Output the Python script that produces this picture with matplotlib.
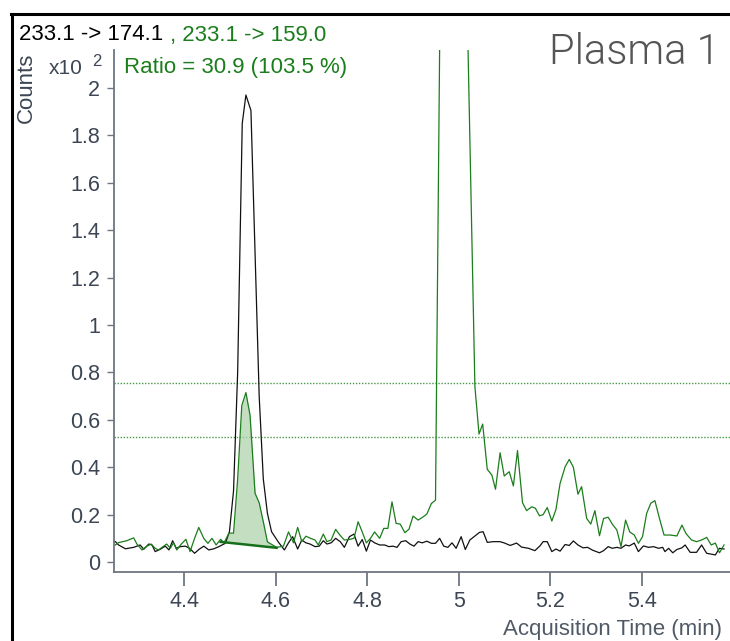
import matplotlib
matplotlib.use("Agg")
import matplotlib.pyplot as plt
from matplotlib.lines import Line2D
import numpy as np

plt.rcParams['font.family'] = ['Liberation Sans', 'DejaVu Sans']

# ---- data ----
black_t = [4.250, 4.257, 4.272, 4.290, 4.304, 4.312, 4.323, 4.330, 4.337, 4.348, 4.359, 4.367,
           4.375, 4.383, 4.392, 4.403, 4.412, 4.423, 4.433, 4.443, 4.454, 4.465, 4.476, 4.490,
           4.499, 4.508, 4.517, 4.527, 4.535, 4.546, 4.555, 4.564, 4.573, 4.582, 4.591, 4.606,
           4.619, 4.628, 4.637, 4.648, 4.657, 4.666, 4.675, 4.686, 4.695, 4.704, 4.712, 4.721,
           4.731, 4.741, 4.750, 4.761, 4.771, 4.780, 4.789, 4.798, 4.807, 4.816, 4.827, 4.838,
           4.847, 4.856, 4.865, 4.874, 4.884, 4.893, 4.902, 4.911, 4.920, 4.930, 4.940, 4.949,
           4.958, 4.967, 4.976, 4.985, 4.994, 5.005, 5.014, 5.024, 5.035, 5.045, 5.053, 5.062,
           5.075, 5.090, 5.100, 5.112, 5.126, 5.137, 5.152, 5.166, 5.177, 5.184, 5.193, 5.203,
           5.212, 5.221, 5.232, 5.241, 5.250, 5.260, 5.271, 5.281, 5.292, 5.307, 5.316, 5.326,
           5.335, 5.345, 5.354, 5.364, 5.372, 5.383, 5.392, 5.403, 5.414, 5.425, 5.436, 5.445,
           5.450, 5.458, 5.467, 5.476, 5.487, 5.494, 5.505, 5.519, 5.530, 5.541, 5.560, 5.569,
           5.579]
black_y = [0.086, 0.072, 0.056, 0.062, 0.072, 0.054, 0.076, 0.072, 0.044, 0.054, 0.067, 0.051,
           0.090, 0.058, 0.065, 0.067, 0.058, 0.037, 0.054, 0.067, 0.051, 0.056, 0.065, 0.079,
           0.127, 0.300, 0.800, 1.850, 1.970, 1.905, 1.300, 0.700, 0.350, 0.205, 0.128, 0.084,
           0.051, 0.081, 0.107, 0.055, 0.093, 0.081, 0.076, 0.065, 0.067, 0.090, 0.076, 0.081,
           0.100, 0.086, 0.062, 0.107, 0.118, 0.067, 0.095, 0.046, 0.093, 0.081, 0.072, 0.072,
           0.065, 0.067, 0.062, 0.086, 0.090, 0.076, 0.067, 0.086, 0.081, 0.088, 0.079, 0.079,
           0.100, 0.067, 0.062, 0.081, 0.058, 0.107, 0.053, 0.093, 0.110, 0.125, 0.128, 0.083,
           0.086, 0.086, 0.080, 0.070, 0.080, 0.063, 0.058, 0.048, 0.068, 0.086, 0.086, 0.044,
           0.055, 0.046, 0.074, 0.070, 0.089, 0.072, 0.060, 0.062, 0.050, 0.039, 0.048, 0.065,
           0.058, 0.062, 0.058, 0.072, 0.068, 0.080, 0.044, 0.068, 0.062, 0.065, 0.058, 0.062,
           0.044, 0.058, 0.039, 0.053, 0.060, 0.072, 0.041, 0.041, 0.072, 0.037, 0.030, 0.058,
           0.055]

green_t = [4.250, 4.257, 4.275, 4.290, 4.297, 4.308, 4.319, 4.328, 4.337, 4.344, 4.352, 4.362,
           4.370, 4.377, 4.384, 4.394, 4.404, 4.413, 4.423, 4.432, 4.443, 4.452, 4.461, 4.470,
           4.480, 4.487, 4.498, 4.508, 4.517, 4.526, 4.535, 4.544, 4.555, 4.564, 4.573, 4.582,
           4.602, 4.617, 4.628, 4.639, 4.648, 4.657, 4.666, 4.676, 4.686, 4.693, 4.704, 4.712,
           4.721, 4.731, 4.740, 4.750, 4.760, 4.771, 4.780, 4.789, 4.798, 4.807, 4.816, 4.827,
           4.836, 4.845, 4.854, 4.863, 4.872, 4.882, 4.891, 4.900, 4.911, 4.920, 4.930, 4.940,
           4.949, 4.961, 4.970, 4.979, 4.988, 4.997, 5.006, 5.017, 5.026, 5.035, 5.044, 5.052,
           5.062, 5.072, 5.080, 5.090, 5.099, 5.110, 5.119, 5.128, 5.139, 5.148, 5.159, 5.167,
           5.176, 5.184, 5.193, 5.203, 5.212, 5.221, 5.232, 5.241, 5.250, 5.260, 5.268, 5.279,
           5.288, 5.297, 5.307, 5.316, 5.326, 5.335, 5.345, 5.354, 5.364, 5.373, 5.383, 5.392,
           5.401, 5.410, 5.419, 5.428, 5.438, 5.448, 5.461, 5.476, 5.487, 5.496, 5.508, 5.519,
           5.530, 5.541, 5.551, 5.560, 5.569, 5.579]
green_y = [0.072, 0.082, 0.090, 0.102, 0.076, 0.051, 0.067, 0.076, 0.058, 0.051, 0.062, 0.076,
           0.058, 0.082, 0.051, 0.076, 0.096, 0.044, 0.100, 0.146, 0.100, 0.079, 0.100, 0.072,
           0.096, 0.080, 0.122, 0.122, 0.350, 0.660, 0.715, 0.620, 0.290, 0.250, 0.170, 0.085,
           0.062, 0.067, 0.127, 0.081, 0.146, 0.086, 0.109, 0.100, 0.093, 0.072, 0.118, 0.086,
           0.093, 0.138, 0.114, 0.093, 0.095, 0.100, 0.170, 0.127, 0.081, 0.100, 0.127, 0.100,
           0.142, 0.142, 0.254, 0.163, 0.160, 0.124, 0.138, 0.194, 0.177, 0.188, 0.202, 0.247,
           0.261, 2.800, 6.000, 9.000, 10.00, 9.000, 6.000, 2.450, 1.600, 0.740, 0.540, 0.582,
           0.391, 0.367, 0.307, 0.461, 0.363, 0.381, 0.321, 0.470, 0.250, 0.217, 0.233, 0.227,
           0.195, 0.200, 0.230, 0.173, 0.222, 0.332, 0.402, 0.433, 0.400, 0.286, 0.318, 0.184,
           0.160, 0.217, 0.111, 0.184, 0.189, 0.160, 0.135, 0.065, 0.177, 0.127, 0.114, 0.079,
           0.107, 0.205, 0.248, 0.259, 0.184, 0.114, 0.114, 0.110, 0.156, 0.120, 0.093, 0.086,
           0.093, 0.104, 0.072, 0.080, 0.039, 0.072]

peak_bounds = [4.480, 4.602]      # integration start/end (min)
peak_baseline = [0.085, 0.060]    # baseline values at start/end
ratio_limits = [0.755, 0.527]     # qualifier ratio limit lines

x_ticks = [4.4, 4.6, 4.8, 5.0, 5.2, 5.4]
x_ticklabels = ["4.4", "4.6", "4.8", "5", "5.2", "5.4"]
y_ticks = [0, 0.2, 0.4, 0.6, 0.8, 1.0, 1.2, 1.4, 1.6, 1.8, 2.0]
y_ticklabels = ["0", "0.2", "0.4", "0.6", "0.8", "1", "1.2", "1.4", "1.6", "1.8", "2"]

# ---- figure ----
W, H = 730, 641
fig = plt.figure(figsize=(W / 100, H / 100), dpi=100)
fig.patch.set_facecolor('white')

def fp(x, y):
    return (x / W, 1 - y / H)

ax = fig.add_axes([114 / W, (H - 572) / H, (W - 114) / W, (572 - 50) / H])
ax.set_xlim(4.247, 5.592)
ax.set_ylim(-0.042, 2.16)

GREEN = '#1b7d1b'
BLACK = '#111111'
AXC = '#6e7682'
TXT = '#3d4654'
FS = 16
TFS = 15.5

# dotted ratio limit lines
for v in ratio_limits:
    ax.axhline(v, color='#4a9a4a', lw=1.0, ls=(0, (1, 1.2)), zorder=1)

# shaded integrated area
gt = np.array(green_t)
gy = np.array(green_y)
m = (gt >= peak_bounds[0]) & (gt <= peak_bounds[1])
xs = np.concatenate([[peak_bounds[0]], gt[m], [peak_bounds[1]]])
ys = np.interp(xs, gt, gy)
base = np.interp(xs, peak_bounds, peak_baseline)
ax.fill_between(xs, base, ys, color='#b0d3ad', alpha=0.75, lw=0, zorder=2)
ax.plot(peak_bounds, peak_baseline, color='#16701a', lw=1.8, zorder=4)

ax.plot(black_t, black_y, color=BLACK, lw=0.9, zorder=3)
ax.plot(green_t, green_y, color=GREEN, lw=0.9, zorder=3)

for s in ['top', 'right']:
    ax.spines[s].set_visible(False)
for s in ['left', 'bottom']:
    ax.spines[s].set_color(AXC)
    ax.spines[s].set_linewidth(1.3)

ax.set_xticks(x_ticks)
ax.set_xticklabels(x_ticklabels)
ax.set_yticks(y_ticks)
ax.set_yticklabels(y_ticklabels)
ax.tick_params(axis='x', direction='out', length=10, width=1.3, color=AXC,
               labelcolor=TXT, labelsize=TFS, pad=4)
ax.tick_params(axis='y', direction='out', length=5, width=1.0, color=AXC,
               labelcolor=TXT, labelsize=TFS, pad=5)

# frame lines (top & left)
fig.add_artist(Line2D([12 / W, 12 / W], [0, 1 - 14 / H], transform=fig.transFigure,
                      color='black', lw=2.2))
fig.add_artist(Line2D([11 / W, 1], [1 - 14 / H, 1 - 14 / H], transform=fig.transFigure,
                      color='black', lw=2.2))

# texts
fig.text(*fp(19, 35), "233.1 -> 174.1", color='black', fontsize=FS, ha='left', va='center')
fig.text(*fp(170, 35), ", 233.1 -> 159.0", color=GREEN, fontsize=FS, ha='left', va='center')
fig.text(*fp(124, 68), "Ratio = 30.9 (103.5 %)", color=GREEN, fontsize=FS, ha='left', va='center')
fig.text(*fp(26, 88), "Counts", color=TXT, fontsize=FS, rotation=90, ha='center', va='center')
fig.text(*fp(49, 68), "x10", color=TXT, fontsize=15, ha='left', va='center')
fig.text(*fp(92, 62), "2", color=TXT, fontsize=12, ha='left', va='center')
fig.text(*fp(720, 52), "Plasma 1", color='#555555', fontsize=30, fontweight=300,
         family=['Roboto', 'DejaVu Sans'], ha='right', va='center')
fig.text(*fp(722, 629), "Acquisition Time (min)", color='#505a66', fontsize=FS,
         ha='right', va='center')

fig.savefig('out.png', dpi=100)
